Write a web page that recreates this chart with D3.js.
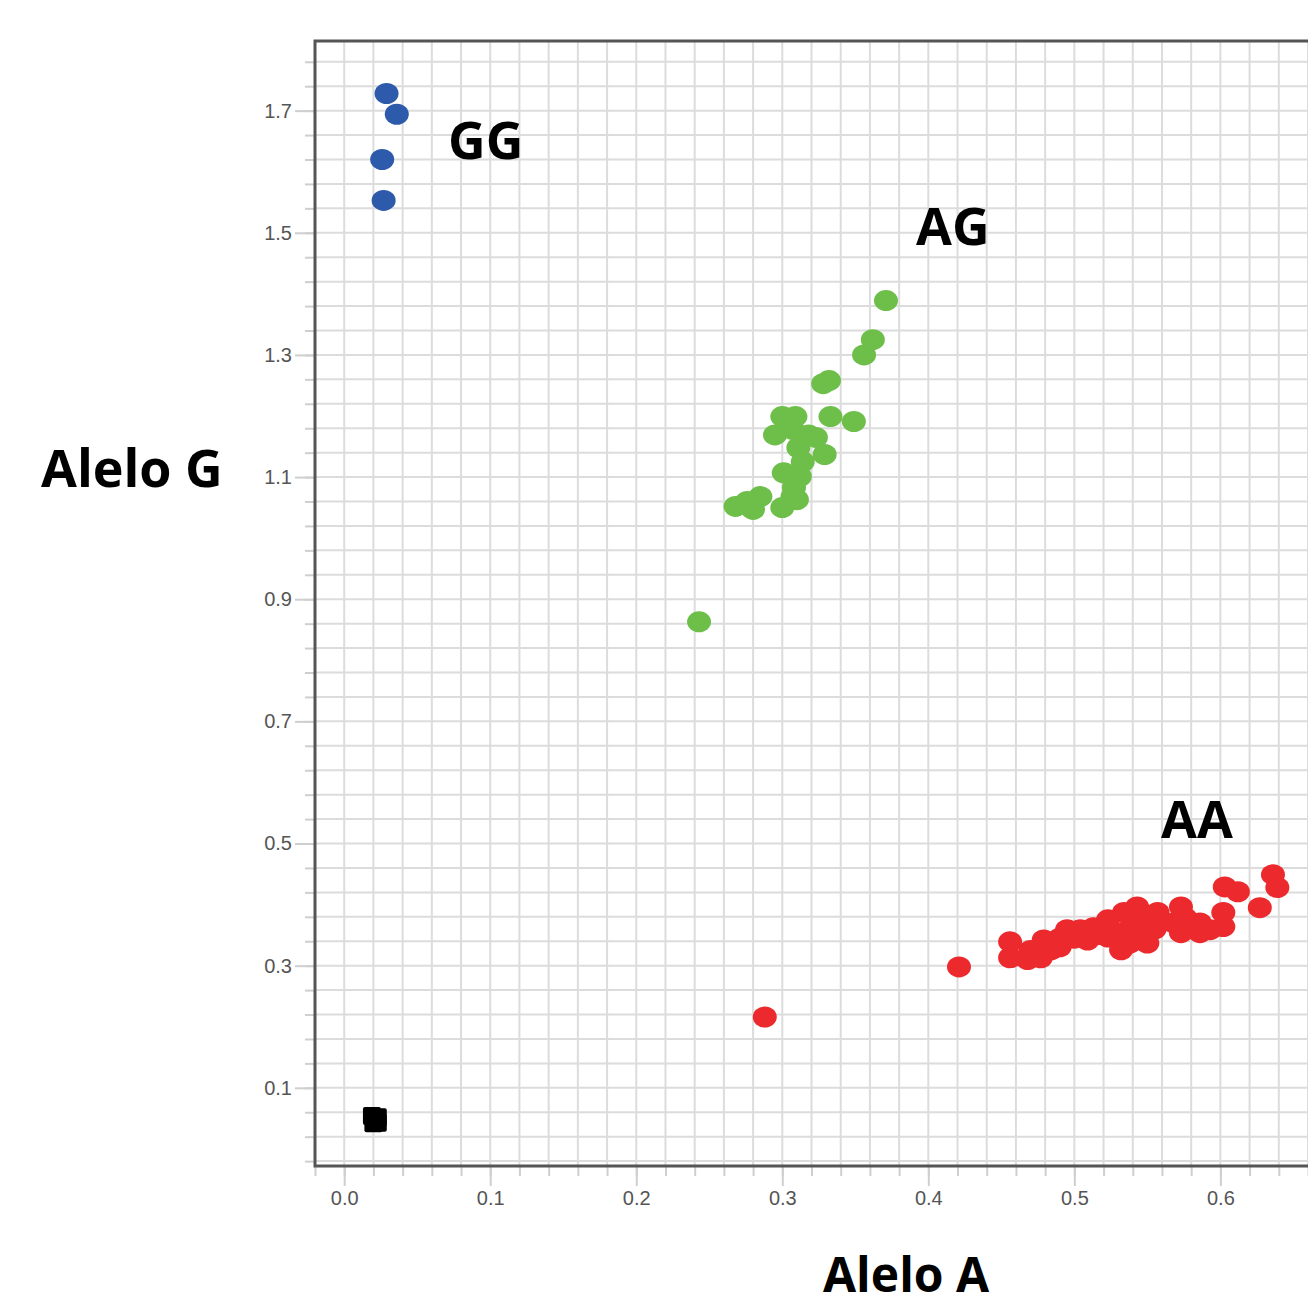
<!DOCTYPE html>
<html>
<head>
<meta charset="utf-8">
<script src="https://cdn.jsdelivr.net/npm/d3@7"></script>
<style>
  body { margin: 0; background: #fff; }
  .tick text { font-family: "Liberation Sans", Arial, sans-serif; font-size: 20px; fill: #555; }
  .tick line { stroke: #cfcfcf; stroke-width: 2; }
  .big { font-family: "Open Sans", sans-serif; font-weight: bold; font-size: 52px; fill: #000; }
</style>
</head>
<body>
<svg id="chart"></svg>
<script>
// genotype clusters, [allele A, allele G]
var gg = [[0.029, 1.728], [0.036, 1.694], [0.026, 1.620], [0.027, 1.553]];

var ag = [[0.371, 1.389], [0.362, 1.325], [0.356, 1.300], [0.328, 1.253], [0.332, 1.258],
          [0.300, 1.199], [0.309, 1.199], [0.333, 1.199], [0.349, 1.191], [0.295, 1.169],
          [0.307, 1.178], [0.318, 1.169], [0.323, 1.165], [0.311, 1.148], [0.329, 1.137],
          [0.314, 1.125], [0.301, 1.107], [0.312, 1.101], [0.308, 1.083], [0.307, 1.068],
          [0.310, 1.063], [0.300, 1.050], [0.285, 1.068], [0.276, 1.060], [0.268, 1.052],
          [0.280, 1.047], [0.243, 0.863]];

var aa = [[0.288, 0.216], [0.421, 0.298], [0.456, 0.339], [0.456, 0.313], [0.468, 0.310],
          [0.477, 0.313], [0.479, 0.342], [0.490, 0.331], [0.495, 0.359], [0.504, 0.359],
          [0.513, 0.362], [0.523, 0.375], [0.532, 0.342], [0.534, 0.387], [0.543, 0.396],
          [0.545, 0.359], [0.550, 0.337], [0.557, 0.387], [0.568, 0.370], [0.573, 0.396],
          [0.573, 0.354], [0.586, 0.370], [0.586, 0.354], [0.602, 0.387], [0.602, 0.364],
          [0.603, 0.429], [0.612, 0.421], [0.627, 0.395], [0.636, 0.449], [0.639, 0.428],
          [0.532, 0.326], [0.538, 0.337], [0.509, 0.342], [0.523, 0.347], [0.552, 0.375],
          [0.576, 0.378], [0.593, 0.359], [0.484, 0.326], [0.518, 0.351], [0.541, 0.367],
          [0.545, 0.380], [0.535, 0.355], [0.555, 0.360], [0.500, 0.345], [0.580, 0.365],
          [0.470, 0.325], [0.490, 0.345]];

var ctrl = [[0.019, 0.054], [0.023, 0.043], [0.020, 0.042], [0.023, 0.052]];

var xLabels = [0, 0.1, 0.2, 0.3, 0.4, 0.5, 0.6];
var yLabels = [0.1, 0.3, 0.5, 0.7, 0.9, 1.1, 1.3, 1.5, 1.7];

var width = 1308, height = 1306;
var plotLeft = 315, plotTop = 41, plotBottom = 1166;

var svg = d3.select('#chart').attr('width', width).attr('height', height);

var xScale = d3.scaleLinear().domain([-0.02, 0.66]).range([plotLeft, 1308]);
var yScale = d3.scaleLinear().domain([-0.028, 1.814]).range([plotBottom, plotTop]);

// minor grid: every 0.02 on x, every 0.04 on y
var xMinor = d3.range(-1, 34).map(function(k) { return +(k * 0.02).toFixed(2); });
var yMinor = d3.range(-3, 43).map(function(k) { return +(0.1 + k * 0.04).toFixed(2); });

var grid = svg.append('g').attr('stroke', '#dcdcdc').attr('stroke-width', 2);
grid.selectAll('.vx').data(xMinor).enter().append('line')
    .attr('x1', function(d) { return xScale(d); }).attr('x2', function(d) { return xScale(d); })
    .attr('y1', plotTop).attr('y2', plotBottom);
grid.selectAll('.hy').data(yMinor).enter().append('line')
    .attr('x1', plotLeft).attr('x2', width)
    .attr('y1', function(d) { return yScale(d); }).attr('y2', function(d) { return yScale(d); });

// short ticks, then long labelled ones
var xMinorAxis = d3.axisBottom(xScale).tickValues(xMinor).tickSize(10).tickFormat('');
var yMinorAxis = d3.axisLeft(yScale).tickValues(yMinor).tickSize(10).tickFormat('');
var xAxis = d3.axisBottom(xScale).tickValues(xLabels).tickSize(20).tickPadding(5).tickFormat(d3.format('.1f'));
var yAxis = d3.axisLeft(yScale).tickValues(yLabels).tickSize(20).tickPadding(3).tickFormat(d3.format('.1f'));

svg.append('g').attr('transform', 'translate(0,' + plotBottom + ')').call(xMinorAxis);
svg.append('g').attr('transform', 'translate(0,' + plotBottom + ')').call(xAxis);
svg.append('g').attr('transform', 'translate(' + plotLeft + ',0)').call(yMinorAxis);
svg.append('g').attr('transform', 'translate(' + plotLeft + ',0)').call(yAxis);
svg.selectAll('.domain').remove();

// frame
var frame = svg.append('g').attr('stroke', '#555').attr('stroke-width', 3).attr('fill', 'none');
frame.append('path').attr('d', 'M' + width + ',' + plotTop + 'H' + plotLeft + 'V' + plotBottom + 'H' + width);

function drawDots(data, color) {
  svg.append('g').selectAll('ellipse').data(data).enter().append('ellipse')
     .attr('cx', function(d) { return xScale(d[0]); })
     .attr('cy', function(d) { return yScale(d[1]); })
     .attr('rx', 12).attr('ry', 10.5)
     .attr('fill', color);
}

drawDots(gg, '#2d5aab');
drawDots(ag, '#6dbf4a');
drawDots(aa, '#ec2a2e');

svg.append('g').selectAll('rect').data(ctrl).enter().append('rect')
   .attr('x', function(d) { return xScale(d[0]) - 9; })
   .attr('y', function(d) { return yScale(d[1]) - 9; })
   .attr('width', 18).attr('height', 18).attr('rx', 2)
   .attr('fill', '#000');

// big labels
svg.append('text').attr('class', 'big').attr('x', 448).attr('y', 159).text('GG');
svg.append('text').attr('class', 'big').attr('x', 916).attr('y', 245).text('AG');
svg.append('text').attr('class', 'big').attr('x', 1161).attr('y', 838).text('AA');
svg.append('text').attr('class', 'big').attr('x', 41).attr('y', 487).text('Alelo G');
svg.append('text').attr('class', 'big').attr('x', 823).attr('y', 1292)
   .style('font-size', '48px').text('Alelo A');
</script>
</body>
</html>
